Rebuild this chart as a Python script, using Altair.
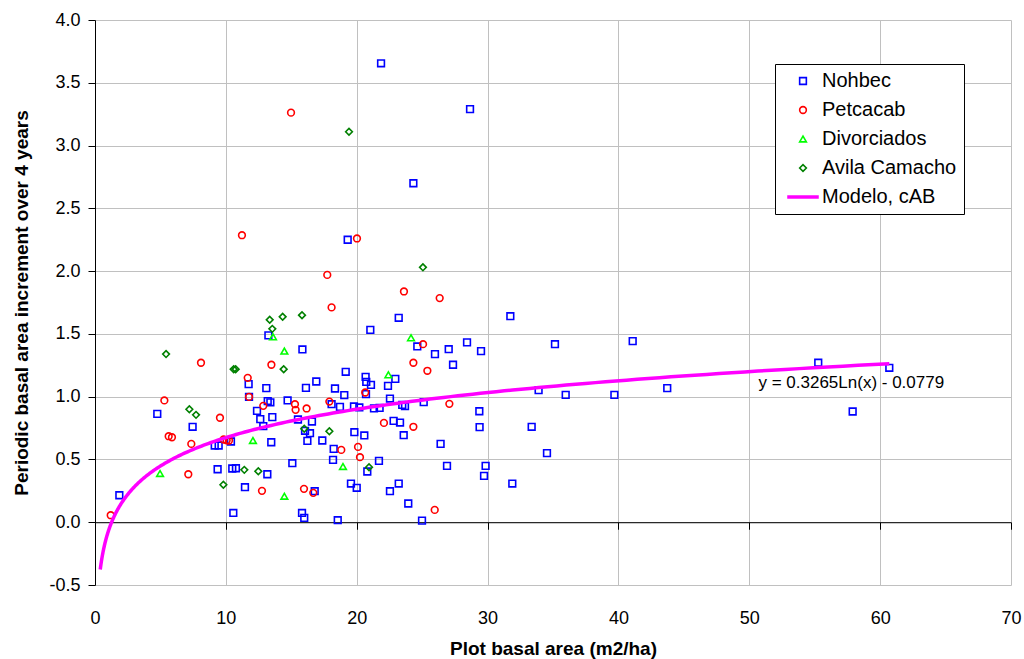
import altair as alt
import pandas as pd

# ---------------- data ----------------
nohbec_x = [21.86, 28.66, 24.33, 19.31, 13.25, 15.85, 11.74, 13.09, 16.12, 16.91,
            11.77, 13.2, 13.4, 14.72, 4.76, 7.46, 12.38, 12.63, 12.86, 13.55,
            15.51, 16.58, 16.05, 16.43, 16.23, 17.37, 9.15, 9.45, 10.39, 13.47,
            9.37, 10.49, 10.77, 13.17, 15.08, 11.46, 16.79, 1.86, 10.57, 15.82,
            15.99, 23.21, 31.74, 21.04, 24.63, 27.03, 28.43, 29.50, 25.98, 27.36,
            19.16, 22.95, 20.68, 20.73, 21.09, 22.39, 18.34, 19.05, 20.71, 22.54,
            33.90, 18.08, 18.72, 19.79, 20.2, 21.32, 21.75, 23.48, 23.69, 25.12,
            29.37, 29.39, 33.37, 34.54, 19.82, 20.58, 22.82, 23.31, 23.59, 26.41,
            18.24, 18.19, 21.70, 20.81, 26.90, 29.85, 29.73, 31.89, 19.56, 20.0,
            22.54, 23.21, 23.94, 18.55, 24.99, 35.15, 41.09, 35.97, 39.69, 43.73,
            55.27, 60.70, 57.90]
nohbec_y = [3.655, 3.29, 2.70, 2.25, 1.488, 1.376, 1.100, 1.068, 1.070, 1.121,
            0.998, 0.965, 0.955, 0.970, 0.863, 0.760, 0.887, 0.821, 0.765, 0.837,
            0.818, 0.802, 0.728, 0.709, 0.648, 0.651, 0.611, 0.611, 0.643, 0.637,
            0.422, 0.428, 0.430, 0.382, 0.470, 0.279, 0.247, 0.215, 0.074, 0.074,
            0.035, 1.628, 1.641, 1.532, 1.400, 1.378, 1.432, 1.363, 1.339, 1.254,
            1.198, 1.142, 1.158, 1.118, 1.094, 1.086, 1.065, 1.012, 1.020, 0.985,
            1.052, 0.940, 0.919, 0.922, 0.914, 0.906, 0.911, 0.935, 0.924, 0.956,
            0.884, 0.757, 0.760, 0.550, 0.717, 0.691, 0.807, 0.794, 0.693, 0.624,
            0.584, 0.497, 0.489, 0.404, 0.449, 0.449, 0.369, 0.308, 0.308, 0.274,
            0.247, 0.308, 0.149, 0.016, 0.013, 1.418, 1.442, 1.014, 1.014, 1.068,
            1.270, 1.230, 0.882]

petcacab_x = [20.02, 17.75, 11.23, 14.98, 8.10, 13.48, 11.67, 11.77, 12.86, 15.28,
              15.33, 16.17, 5.30, 9.55, 5.63, 5.88, 7.36, 9.83, 10.06, 10.24,
              7.13, 12.76, 15.97, 16.68, 1.20, 23.61, 26.34, 18.08, 25.07, 24.33,
              25.40, 20.65, 17.91, 27.08, 22.08, 24.33, 18.82, 20.1, 20.25, 25.96]
petcacab_y = [2.26, 1.97, 2.286, 3.262, 1.270, 1.254, 1.150, 0.998, 0.927, 0.940,
              0.895, 0.906, 0.970, 0.832, 0.685, 0.677, 0.624, 0.659, 0.653, 0.651,
              0.382, 0.250, 0.266, 0.234, 0.056, 1.838, 1.785, 1.711, 1.418, 1.270,
              1.206, 1.033, 0.961, 0.943, 0.791, 0.760, 0.576, 0.600, 0.518, 0.098]

divorciados_x = [13.60, 14.47, 12.07, 4.97, 14.47, 24.15, 22.42, 18.95]
divorciados_y = [1.477, 1.363, 0.651, 0.388, 0.207, 1.469, 1.174, 0.444]

avila_x = [19.41, 25.06, 13.35, 14.34, 15.82, 13.55, 5.43, 10.6, 10.75, 14.42,
           7.21, 7.72, 15.99, 11.41, 12.48, 9.81, 17.91, 20.94]
avila_y = [3.11, 2.03, 1.612, 1.636, 1.649, 1.540, 1.339, 1.219, 1.219, 1.219,
           0.900, 0.855, 0.744, 0.417, 0.406, 0.298, 0.725, 0.438]

series_names = ["Nohbec", "Petcacab", "Divorciados", "Avila Camacho", "Modelo, cAB"]
series_colors = ["#0000FF", "#FF0000", "#00FF00", "#008000", "#FF00FF"]
# last shape: a long horizontal stroke used as the line's legend symbol
series_shapes = ["square", "circle", "triangle-up", "diamond", "M-4.7,0H4.7"]
legend_stroke_widths = [1.6, 1.6, 1.6, 1.6, 3.5]

# trend model printed on the chart: y = a*Ln(x) + b
model_a = 0.3265
model_b = -0.0779
model_x_min = 0.4
model_x_max = 60.7
equation_label = "y = 0.3265Ln(x) - 0.0779"
equation_x = 50.7
equation_y = 1.106

x_domain = [0, 70]
y_domain = [-0.5, 4.0]
x_ticks = [0, 10, 20, 30, 40, 50, 60, 70]
y_ticks = [-0.5, 0.0, 0.5, 1.0, 1.5, 2.0, 2.5, 3.0, 3.5, 4.0]

x_title = "Plot basal area (m2/ha)"
y_title = "Periodic basal area increment over 4 years"

# ---------------- layout ----------------
W, H = 916, 565
FONT = "Liberation Sans, Arial, sans-serif"
x_axis_offset = -H * (0 - y_domain[0]) / (y_domain[1] - y_domain[0])

frames = []
for name, xs, ys in [("Nohbec", nohbec_x, nohbec_y),
                     ("Petcacab", petcacab_x, petcacab_y),
                     ("Divorciados", divorciados_x, divorciados_y),
                     ("Avila Camacho", avila_x, avila_y)]:
    frames.append(pd.DataFrame({"x": xs, "y": ys, "series": name}))
points_df = pd.concat(frames, ignore_index=True)
points_df["order"] = points_df["series"].map({n: i for i, n in enumerate(series_names)})

x_axis = alt.Axis(values=x_ticks, format="d", offset=x_axis_offset, tickSize=7,
                  tickColor="black", domainColor="black", domainWidth=1, tickWidth=1,
                  labelPadding=80, labelFlush=False, labelFontSize=18, labelFont=FONT,
                  labelColor="black", title=x_title, titleFontSize=19, titleFont=FONT,
                  titleFontWeight="bold", titleColor="black", titlePadding=12,
                  grid=True, gridColor="#c0c0c0", gridWidth=1)
y_axis = alt.Axis(values=y_ticks, tickSize=7, tickColor="black",
                  labelExpr="datum.value < 0 ? '-' + format(-datum.value, '.1f') : format(datum.value, '.1f')",
                  domainColor="black", domainWidth=1, tickWidth=1, labelPadding=8,
                  labelFontSize=18, labelFont=FONT, labelColor="black", title=y_title,
                  titleFontSize=19, titleFont=FONT, titleFontWeight="bold",
                  titleColor="black", titlePadding=17, grid=True,
                  gridColor="#c0c0c0", gridWidth=1)

x_enc = alt.X("x:Q", scale=alt.Scale(domain=x_domain, nice=False, zero=False), axis=x_axis)
y_enc = alt.Y("y:Q", scale=alt.Scale(domain=y_domain, nice=False, zero=False), axis=y_axis)

legend = alt.Legend(
    title=None, orient="none", legendX=680, legendY=44,
    fillColor="white", strokeColor="black", padding=7, symbolOffset=11,
    labelOffset=9, labelFontSize=20, labelFont=FONT, labelColor="black",
    rowPadding=9, symbolSize=45,
)

color_scale = alt.Scale(domain=series_names, range=series_colors)
shape_scale = alt.Scale(domain=series_names, range=series_shapes)
sw_scale = alt.Scale(type="ordinal", domain=series_names, range=legend_stroke_widths)

points = alt.Chart(points_df).mark_point(filled=False, opacity=1, size=45).encode(
    x=x_enc, y=y_enc,
    color=alt.Color("series:N", scale=color_scale, legend=legend),
    shape=alt.Shape("series:N", scale=shape_scale, legend=legend),
    strokeWidth=alt.StrokeWidth("series:N", scale=sw_scale, legend=legend),
    order=alt.Order("order:Q"),
)

ratio = model_x_max / model_x_min
line = alt.Chart(alt.sequence(0, 1.0001, 0.004, as_="t")).transform_calculate(
    x=f"{model_x_min} * pow({ratio}, datum.t)",
).transform_calculate(
    y=f"{model_a} * log(datum.x) + ({model_b})",
    series="'Modelo, cAB'",
).mark_line(strokeWidth=3.5).encode(
    x=x_enc, y=y_enc,
    color=alt.Color("series:N", scale=color_scale, legend=None),
    order="t:Q",
)

eq_df = pd.DataFrame({"x": [equation_x], "y": [equation_y], "label": [equation_label]})
eq = alt.Chart(eq_df).mark_text(align="left", baseline="middle", fontSize=17,
                                font=FONT, color="black").encode(
    x=x_enc, y=y_enc, text="label:N")

chart = alt.layer(points, line, eq).properties(
    width=W, height=H,
    autosize=alt.AutoSizeParams(type="none"),
    padding={"left": 95, "top": 20, "right": 13, "bottom": 74},
    background="white",
).configure_view(stroke=None)

chart.save("out.html", embed_options={"renderer": "svg", "actions": False})
